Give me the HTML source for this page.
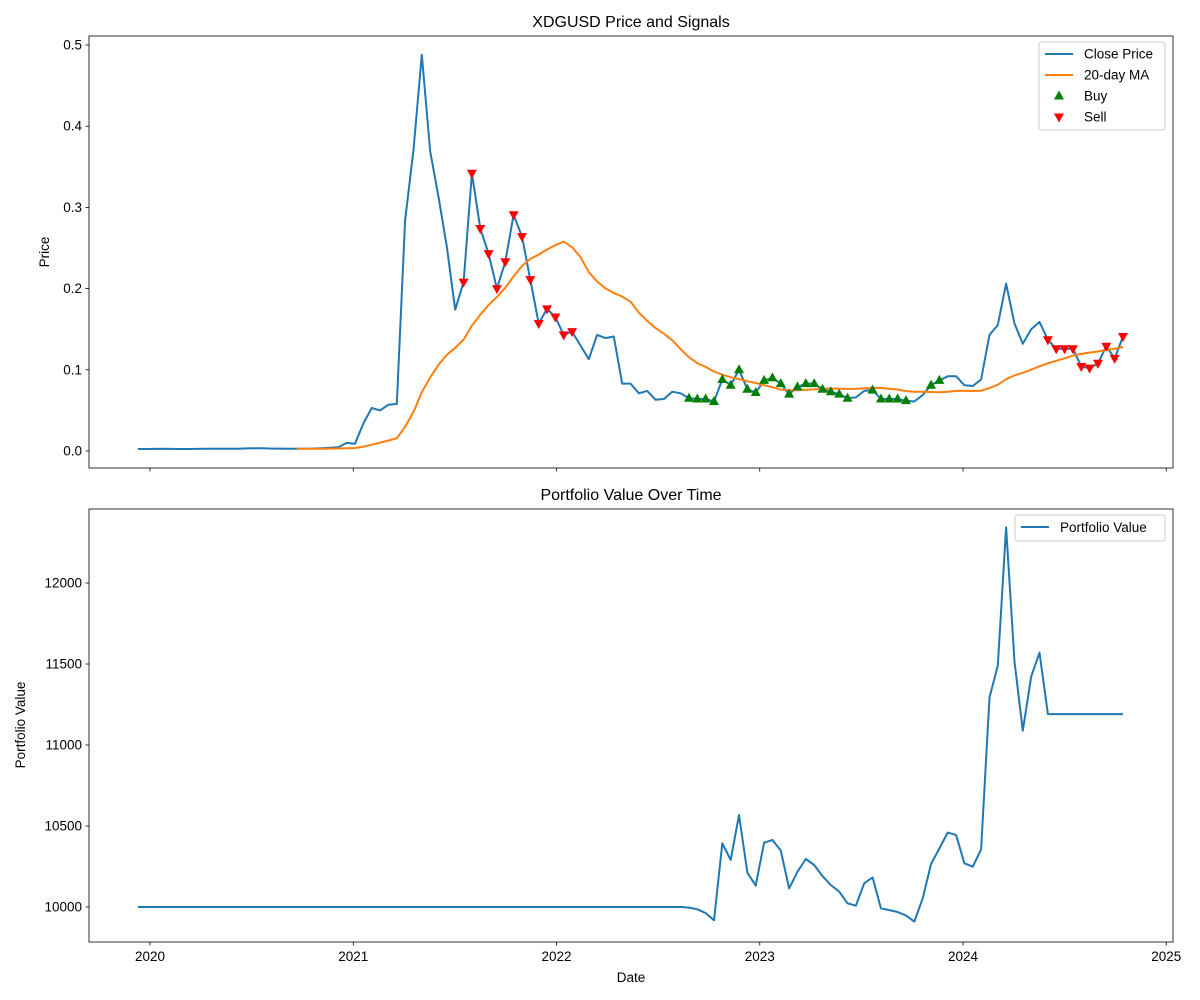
<!DOCTYPE html>
<html><head><meta charset="utf-8"><style>
body{margin:0;background:#fff;}
svg{display:block;font-family:"Liberation Sans","DejaVu Sans",sans-serif;}
</style></head><body>
<svg id="chart" width="1200" height="1000" viewBox="0 0 1200 1000" xmlns="http://www.w3.org/2000/svg">
<rect width="1200" height="1000" fill="#fff"/>
<g id="topPanel"></g>
<g id="botPanel"></g>
</svg>
<script>
const startYear = 2019.941;
const stepYears = 0.04107;
const closePrices = [0.0025,0.0025,0.0026,0.0027,0.0026,0.0025,0.0025,0.0026,0.0027,0.0027,0.0027,0.0027,0.0028,0.0032,0.0034,0.0033,0.0030,0.0029,0.0028,0.0028,0.0029,0.0031,0.0035,0.0040,0.0045,0.010,0.009,0.034,0.053,0.050,0.057,0.058,0.284,0.371,0.488,0.369,0.313,0.251,0.174,0.208,0.342,0.274,0.243,0.200,0.233,0.291,0.264,0.211,0.157,0.175,0.165,0.143,0.147,0.130,0.113,0.143,0.139,0.141,0.083,0.083,0.071,0.074,0.063,0.064,0.073,0.071,0.065,0.064,0.064,0.061,0.088,0.081,0.100,0.076,0.072,0.087,0.090,0.083,0.070,0.079,0.083,0.083,0.076,0.073,0.070,0.065,0.066,0.074,0.075,0.064,0.064,0.064,0.062,0.061,0.069,0.081,0.087,0.092,0.092,0.081,0.080,0.088,0.143,0.155,0.206,0.157,0.132,0.150,0.159,0.137,0.126,0.126,0.126,0.104,0.102,0.108,0.129,0.114,0.141];
const buyIdx = [66,67,68,69,70,71,72,73,74,75,76,77,78,79,80,81,82,83,84,85,88,89,90,91,92,95,96];
const sellIdx = [39,40,41,42,43,44,45,46,47,48,49,50,51,52,109,110,111,112,113,114,115,116,117,118];
const portfolioTail = [10000,10000,10000,9996,9986,9963,9918,10393,10290,10568,10212,10132,10397,10414,10348,10115,10218,10296,10259,10191,10136,10095,10023,10008,10146,10183,9992,9981,9969,9947,9910,10053,10265,10362,10459,10444,10270,10249,10356,11294,11490,12344,11514,11088,11422,11570,11191];
const yearTicks = [2020,2021,2022,2023,2024,2025];
const priceTicks = [0.0,0.1,0.2,0.3,0.4,0.5];
const priceTickLabels = ["0.0","0.1","0.2","0.3","0.4","0.5"];
const pfTicks = [10000,10500,11000,11500,12000];
const pfTickLabels = ["10000","10500","11000","11500","12000"];

const NS="http://www.w3.org/2000/svg";
function mk(p,tag,attrs){const e=document.createElementNS(NS,tag);for(const k in attrs)e.setAttribute(k,attrs[k]);p.appendChild(e);return e;}
const X=t=>150+(t-2020)*203.25;
const Yp=v=>451-v*812;
const Yb=v=>907-(v-10000)*0.162;
const N=closePrices.length;
const dates=closePrices.map((_,i)=>startYear+i*stepYears);
const ma=closePrices.map((_,i)=>{if(i<19)return null;let s=0;for(let j=i-19;j<=i;j++)s+=closePrices[j];return s/20;});
const portfolio=[];
for(let i=0;i<N;i++){portfolio.push(i<63?10000:(i-63<portfolioTail.length?portfolioTail[i-63]:portfolioTail[portfolioTail.length-1]));}

function axes(g,y0,y1,ticks,labels,Yf,showX){
  const L=89,R=1173;
  const a=mk(g,'rect',{x:L,y:y0,width:R-L,height:y1-y0,fill:'none',stroke:'#000','stroke-width':0.8});
  
  
  ticks.forEach((v,i)=>{const y=Yf(v);
    mk(g,'line',{x1:L-3.5,x2:L,y1:y,y2:y,stroke:'#000','stroke-width':0.8});
    const t=mk(g,'text',{x:L-7,y:y+4.5,'font-size':13.5,'text-anchor':'end'});t.textContent=labels[i];
    
    
  });
  yearTicks.forEach(yr=>{const x=X(yr);
    mk(g,'line',{x1:x,x2:x,y1:y1,y2:y1+3.5,stroke:'#000','stroke-width':0.8});
    if(showX){const t=mk(g,'text',{x:x,y:y1+19,'font-size':13.5,'text-anchor':'middle'});t.textContent=String(yr);
      
      }
  });
}
function pathOf(xs,ys){let d='';xs.forEach((x,i)=>{if(ys[i]==null)return;d+=(d?'L':'M')+X(x).toFixed(1)+','+ys[i].toFixed(1);});return d;}

// TOP
const topG=document.getElementById('topPanel');
axes(topG,36,468,priceTicks,priceTickLabels,Yp,false);
let tx=mk(topG,'text',{x:631,y:27,'font-size':16,'text-anchor':'middle'});tx.textContent='XDGUSD Price and Signals';


tx=mk(topG,'text',{x:0,y:0,'font-size':13.5,'text-anchor':'middle',transform:'translate(49,252) rotate(-90)'});tx.textContent='Price';


let pth=mk(topG,'path',{d:pathOf(dates,closePrices.map(Yp)),fill:'none',stroke:'#1f77b4','stroke-width':2,'stroke-linejoin':'round'});


pth=mk(topG,'path',{d:pathOf(dates,ma.map(v=>v==null?null:Yp(v))),fill:'none',stroke:'#ff7f0e','stroke-width':2,'stroke-linejoin':'round'});


buyIdx.forEach(i=>{const x=X(dates[i]),y=Yp(closePrices[i]);
  const m=mk(topG,'path',{d:`M${x},${y-5.5}L${x+5},${y+3.5}L${x-5},${y+3.5}Z`,fill:'#008000'});
  
  });
sellIdx.forEach(i=>{const x=X(dates[i]),y=Yp(closePrices[i]);
  const m=mk(topG,'path',{d:`M${x},${y+5.5}L${x+5},${y-3.5}L${x-5},${y-3.5}Z`,fill:'#ff0000'});
  
  });
const lg=mk(topG,'g',{});


mk(lg,'rect',{x:1039,y:42,width:126,height:88,rx:3,fill:'#fff','fill-opacity':0.8,stroke:'#ccc'});
[['Close Price','#1f77b4','line',54],['20-day MA','#ff7f0e','line',75],['Buy','#008000','up',96],['Sell','#ff0000','down',117]].forEach(e=>{
  const [lab,col,kind,y]=e;
  if(kind==='line')mk(lg,'line',{x1:1045,x2:1073,y1:y,y2:y,stroke:col,'stroke-width':2});
  else if(kind==='up')mk(lg,'path',{d:`M1059,${y-5.5}L1064,${y+3.5}L1054,${y+3.5}Z`,fill:col});
  else mk(lg,'path',{d:`M1059,${y+5.5}L1064,${y-3.5}L1054,${y-3.5}Z`,fill:col});
  const t2=mk(lg,'text',{x:1084,y:y+4.5,'font-size':13.5});t2.textContent=lab;
  
  
});

// BOTTOM
const botG=document.getElementById('botPanel');
axes(botG,509,942,pfTicks,pfTickLabels,Yb,true);
tx=mk(botG,'text',{x:631,y:500,'font-size':16,'text-anchor':'middle'});tx.textContent='Portfolio Value Over Time';


tx=mk(botG,'text',{x:0,y:0,'font-size':13.5,'text-anchor':'middle',transform:'translate(25,725) rotate(-90)'});tx.textContent='Portfolio Value';


tx=mk(botG,'text',{x:631,y:982,'font-size':13.5,'text-anchor':'middle'});tx.textContent='Date';


pth=mk(botG,'path',{d:pathOf(dates,portfolio.map(Yb)),fill:'none',stroke:'#1f77b4','stroke-width':2,'stroke-linejoin':'round'});


const lg2=mk(botG,'g',{});


mk(lg2,'rect',{x:1015,y:515,width:150,height:26,rx:3,fill:'#fff','fill-opacity':0.8,stroke:'#ccc'});
mk(lg2,'line',{x1:1021,x2:1049,y1:527,y2:527,stroke:'#1f77b4','stroke-width':2});
tx=mk(lg2,'text',{x:1060,y:532,'font-size':13.5});tx.textContent='Portfolio Value';


</script>
</body></html>
